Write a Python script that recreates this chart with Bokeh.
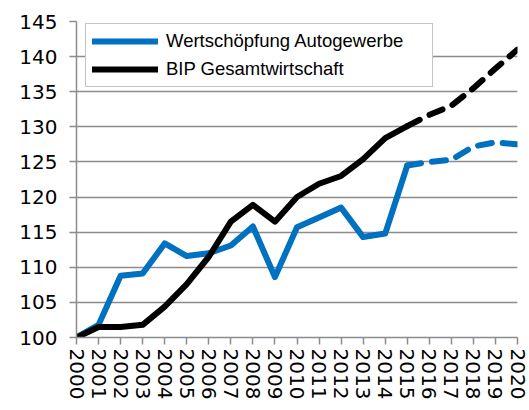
from bokeh.plotting import figure
from bokeh.models import Range1d, FixedTicker, Legend, LegendItem
from bokeh.embed import file_html
from bokeh.resources import INLINE

years = list(range(2000, 2021))
wertschoepfung = [100, 101.8, 108.8, 109.1, 113.4, 111.6, 112.0, 113.1, 115.8, 108.6,
                  115.7, 117.1, 118.5, 114.3, 114.8, 124.5, 125.0, 125.3, 127.2, 127.8, 127.5]
bip = [100, 101.5, 101.5, 101.8, 104.4, 107.6, 111.5, 116.5, 118.9, 116.5,
       120.0, 121.9, 123.0, 125.4, 128.4, 130.1, 131.7, 133.0, 135.5, 138.3, 141.0]
y_ticks = [100, 105, 110, 115, 120, 125, 130, 135, 140, 145]
label_wert = "Wertschöpfung Autogewerbe"
label_bip = "BIP Gesamtwirtschaft"
split = years.index(2015)

BLUE = "#0070C0"
GRID = "#8c8c8c"
TICK_FONT = "DejaVu Sans"
LEG_FONT = "Liberation Sans"

p = figure(width=529, height=410, output_backend="svg", toolbar_location=None,
           x_range=Range1d(2000, 2020), y_range=Range1d(100, 145),
           min_border_left=76, min_border_right=12, min_border_top=21, min_border_bottom=73)
p.outline_line_color = None
p.background_fill_color = "white"
p.border_fill_color = "white"

p.xgrid.visible = False
p.ygrid.grid_line_color = GRID
p.ygrid.grid_line_width = 1.5
p.ygrid.ticker = FixedTicker(ticks=y_ticks)

for ax in (p.xaxis[0], p.yaxis[0]):
    ax.axis_line_color = GRID
    ax.axis_line_width = 1.5
    ax.major_tick_line_color = GRID
    ax.major_tick_line_width = 1.5
    ax.major_tick_out = 7
    ax.major_tick_in = 0
    ax.minor_tick_line_color = None
    ax.major_label_text_font = TICK_FONT
    ax.major_label_text_font_size = "20px"
    ax.major_label_text_color = "black"

p.yaxis.ticker = FixedTicker(ticks=y_ticks)
p.yaxis.major_label_standoff = 12
p.xaxis.ticker = FixedTicker(ticks=years)
p.xaxis.major_label_orientation = "vertical"
p.xaxis.major_label_standoff = 4

dash = "14 11"
r_w = p.line(years[:split + 1], wertschoepfung[:split + 1], line_color=BLUE, line_width=6,
             line_cap="round", line_join="round")
p.line(years[split:], wertschoepfung[split:], line_color=BLUE, line_width=6,
       line_cap="round", line_join="round", line_dash=dash)
r_b = p.line(years[:split + 1], bip[:split + 1], line_color="black", line_width=6,
             line_cap="round", line_join="round")
p.line(years[split:], bip[split:], line_color="black", line_width=6,
       line_cap="round", line_join="round", line_dash=dash)

legend = Legend(items=[LegendItem(label=label_wert, renderers=[r_w]),
                       LegendItem(label=label_bip, renderers=[r_b])],
                location=(9, 250))
legend.border_line_color = GRID
legend.border_line_width = 1.5
legend.background_fill_color = "white"
legend.background_fill_alpha = 1
legend.padding = 6
legend.spacing = 6
legend.margin = 0
legend.glyph_width = 66
legend.glyph_height = 20
legend.label_height = 20
legend.label_width = 260
legend.label_standoff = 8
legend.label_text_font = LEG_FONT
legend.label_text_font_size = "18.5px"
legend.label_text_color = "black"
p.add_layout(legend)

open("out.html", "w").write(file_html(p, INLINE))
